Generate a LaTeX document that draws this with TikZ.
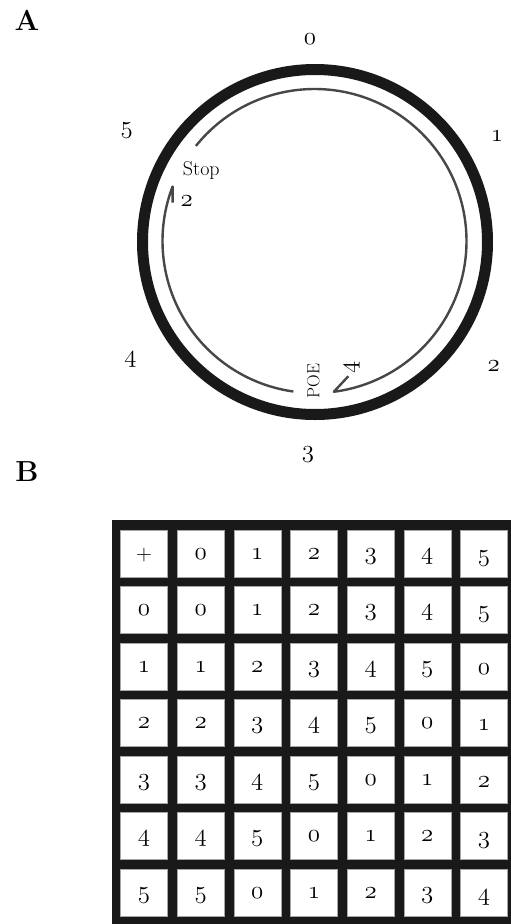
\documentclass[tikz,border=0pt]{standalone}
\newcommand\osfnum{\fontsize{25}{28}\usefont{OML}{cmm}{m}{it}}
\newcommand\dgt[1]{\ifnum#1<3 {\fontsize{28}{30}\usefont{OML}{cmm}{m}{it}#1}\else{\fontsize{25}{28}\usefont{OML}{cmm}{m}{it}#1}\fi}
\tikzset{
  ring/.style={line width=11pt, draw=black!90},
  pathline/.style={line width=2.4pt, draw=black!72, line join=round},
  lbl/.style={inner sep=0pt, anchor=base},
  wordlbl/.style={font=\fontsize{20}{23}\selectfont, inner sep=0pt, anchor=base},
  panel/.style={font=\bfseries\fontsize{29}{32}\selectfont, inner sep=0pt},
  cellbox/.style={fill=white, draw=black!35, line width=0.5pt, minimum width=47pt, minimum height=47pt, inner sep=0pt, outer sep=0pt}
}
\begin{document}
\begin{tikzpicture}[x=1pt,y=-1pt]
\useasboundingbox (0,0) rectangle (511,924);
% ---------- panel A ----------
\node[panel] (A) at (27,20.5) {A};
\coordinate (O) at (315,242);
\coordinate (I) at (314.5,241);
\draw[ring] (O) circle[radius=172.5];
\draw[pathline] ([shift={(I)}]98:152) coordinate (s1) arc[start angle=98, end angle=201, radius=152] coordinate (tip1) -- ++(0,16) coordinate (b1);
\draw[pathline] ([shift={(I)}]218.7:152) coordinate (s2) arc[start angle=218.7, end angle=442.7, radius=152] coordinate (tip2) -- ++(14.5,-15.5) coordinate (b2);
\node[lbl] (n0) at (310,44.3) {\dgt{0}};
\node[lbl] (n1) at (497,141.7) {\dgt{1}};
\node[lbl] (n2) at (493.7,371.7) {\dgt{2}};
\node[lbl] (n3) at (308,457.8) {\dgt{3}};
\node[lbl] (n4) at (130.5,362.5) {\dgt{4}};
\node[lbl] (n5) at (126.7,133.8) {\dgt{5}};
\node[wordlbl] (stop) at (201.3,175) {Stop};
\node[lbl] (stop2) at (186.7,206) {\dgt{2}};
\node[font=\fontsize{17.5}{20}\selectfont, inner sep=0pt, rotate=90] (poe) at (313.5,381) {POE};
\node[inner sep=0pt, rotate=90] (poe4) at (352,367) {\dgt{4}};
% ---------- panel B ----------
\node[panel] (B) at (27,472) {B};
\fill[black!90] (111.7,520) rectangle (511,924);
\foreach \r in {0,...,6}{
  \foreach \c in {0,...,6}{
    \pgfmathsetmacro\xx{120.5+56.65*\c}
    \pgfmathsetmacro\yy{530+56.5*\r}
    \pgfmathtruncatemacro\v{\r==0 ? \c-1 : (\c==0 ? \r-1 : mod(\r+\c-2,6))}
    \pgfmathsetmacro\off{\c==6 ? -7.5 : -5.5}
    \node[cellbox, anchor=north west] (cell-\r-\c) at (\xx,\yy) {};
    \ifnum\v<0
      \node[font=\fontsize{22}{24}\selectfont, inner sep=0pt, anchor=base] (t-\r-\c) at ([yshift=-7pt]cell-\r-\c.center) {+};
    \else
      \node[lbl] (t-\r-\c) at ([yshift=\off pt]cell-\r-\c.center) {\dgt{\v}};
    \fi
  }
}
\end{tikzpicture}
\end{document}
